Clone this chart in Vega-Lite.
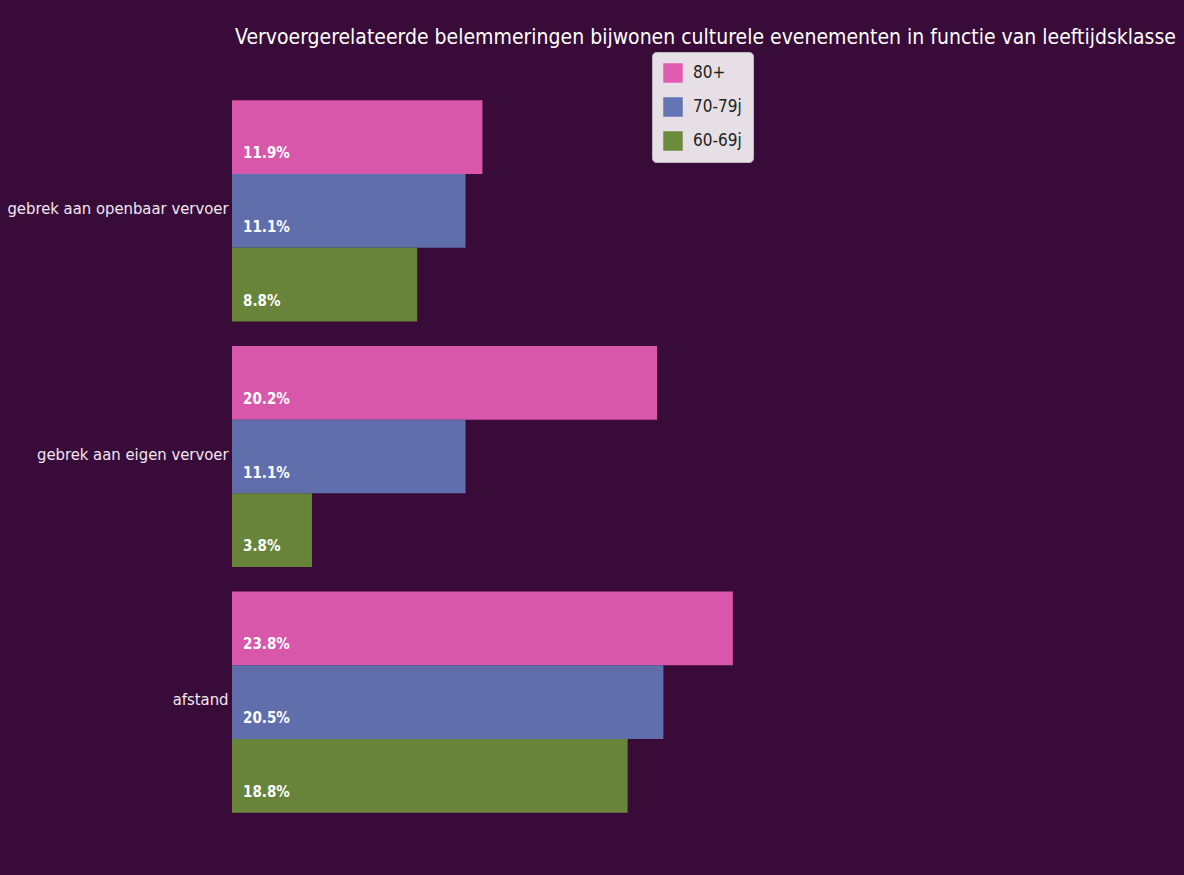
{
  "$schema": "https://vega.github.io/schema/vega-lite/v6.json",
  "width": 947,
  "height": 737,
  "padding": {"left": 232, "top": 88, "right": 5, "bottom": 50},
  "autosize": {"type": "none"},
  "background": "#380b38",
  "config": {
    "view": {"stroke": null},
    "font": "DejaVu Sans Condensed, Liberation Sans Narrow, Roboto"
  },
  "title": {
    "text": "Vervoergerelateerde belemmeringen bijwonen culturele evenementen in functie van leeftijdsklasse",
    "color": "#ffffff",
    "fontSize": 21,
    "fontWeight": "normal",
    "font": "DejaVu Sans Condensed, Liberation Sans Narrow, Roboto",
    "anchor": "middle",
    "offset": 4
  },
  "data": {
    "values": [
      {"reden": "gebrek aan openbaar vervoer", "leeftijd": "80+", "pct": 11.9},
      {"reden": "gebrek aan openbaar vervoer", "leeftijd": "70-79j", "pct": 11.1},
      {"reden": "gebrek aan openbaar vervoer", "leeftijd": "60-69j", "pct": 8.8},
      {"reden": "gebrek aan eigen vervoer", "leeftijd": "80+", "pct": 20.2},
      {"reden": "gebrek aan eigen vervoer", "leeftijd": "70-79j", "pct": 11.1},
      {"reden": "gebrek aan eigen vervoer", "leeftijd": "60-69j", "pct": 3.8},
      {"reden": "afstand", "leeftijd": "80+", "pct": 23.8},
      {"reden": "afstand", "leeftijd": "70-79j", "pct": 20.5},
      {"reden": "afstand", "leeftijd": "60-69j", "pct": 18.8}
    ]
  },
  "transform": [
    {"calculate": "format(datum.pct, '.1f') + '%'", "as": "label"}
  ],
  "encoding": {
    "y": {
      "field": "reden",
      "type": "nominal",
      "sort": ["gebrek aan openbaar vervoer", "gebrek aan eigen vervoer", "afstand"],
      "scale": {"paddingInner": 0.1, "paddingOuter": 0.05},
      "axis": {
        "title": null,
        "domain": false,
        "ticks": false,
        "labelColor": "#f2e6f2",
        "labelFontSize": 16.5,
        "labelLimit": 0,
        "labelPadding": 4,
        "labelBaseline": "middle",
        "labelOffset": -2
      }
    },
    "yOffset": {
      "field": "leeftijd",
      "type": "nominal",
      "sort": ["80+", "70-79j", "60-69j"],
      "scale": {"paddingInner": 0, "paddingOuter": 0}
    },
    "x": {
      "field": "pct",
      "type": "quantitative",
      "scale": {"domain": [0, 45], "nice": false},
      "axis": null
    }
  },
  "layer": [
    {
      "mark": {"type": "bar", "stroke": null, "opacity": 0.95},
      "encoding": {
        "color": {
          "field": "leeftijd",
          "type": "nominal",
          "sort": ["80+", "70-79j", "60-69j"],
          "scale": {
            "domain": ["80+", "70-79j", "60-69j"],
            "range": ["#e05cb0", "#6274b2", "#6a8b3a"]
          },
          "legend": {
            "title": null,
            "orient": "none",
            "legendX": 420,
            "legendY": -36,
            "symbolType": "square",
            "symbolSize": 380,
            "symbolStrokeWidth": 0,
            "symbolOpacity": 1,
            "labelFontSize": 17,
            "labelColor": "#222222",
            "rowPadding": 14,
            "padding": 11,
            "fillColor": "#e6e0e6",
            "strokeColor": "#bbbbbb",
            "cornerRadius": 4,
            "labelOffset": 10
          }
        }
      }
    },
    {
      "mark": {
        "type": "text",
        "align": "left",
        "baseline": "middle",
        "dx": 11,
        "dy": 16,
        "color": "#ffffff",
        "fontWeight": "bold",
        "fontSize": 15
      },
      "encoding": {
        "x": {"datum": 0},
        "text": {"field": "label", "type": "nominal"}
      }
    }
  ]
}
